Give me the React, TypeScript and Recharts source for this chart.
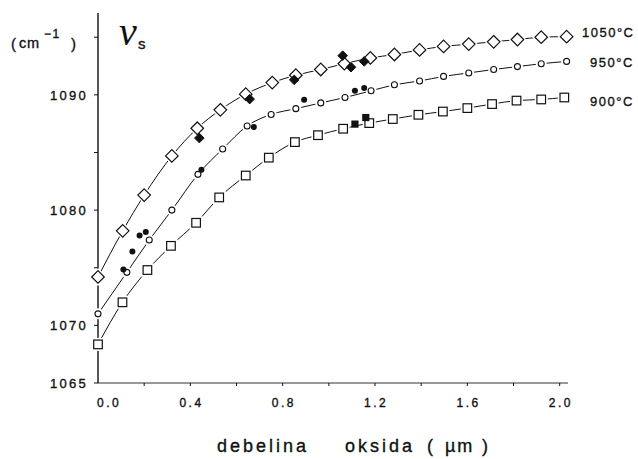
import React from "react";
import { ComposedChart, XAxis, YAxis, Line, Scatter } from "recharts";

// ---- data ----
const xTicks = [0, 0.2, 0.4, 0.6, 0.8, 1.0, 1.2, 1.4, 1.6, 1.8, 2.0];
const yTicks = [1065, 1070, 1075, 1080, 1085, 1090, 1095];
const yLabeled = [1065, 1070, 1080, 1090];

const x1050 = [0, 0.107, 0.2, 0.32, 0.43, 0.53, 0.64, 0.755, 0.857, 0.965, 1.067, 1.18, 1.284, 1.393, 1.497, 1.606, 1.714, 1.817, 1.92, 2.03];
const y1050 = [1074.2, 1078.2, 1081.3, 1084.7, 1087.1, 1088.7, 1090.06, 1091.06, 1091.7, 1092.2, 1092.7, 1093.2, 1093.5, 1093.9, 1094.2, 1094.4, 1094.6, 1094.8, 1095.0, 1095.05];

const x950 = [0, 0.125, 0.222, 0.32, 0.433, 0.54, 0.646, 0.75, 0.857, 0.965, 1.07, 1.183, 1.284, 1.393, 1.497, 1.606, 1.714, 1.817, 1.92, 2.03];
const y950 = [1071.0, 1074.6, 1077.4, 1080.0, 1083.1, 1085.3, 1087.3, 1088.3, 1088.8, 1089.3, 1089.77, 1090.35, 1090.87, 1091.2, 1091.6, 1091.9, 1092.2, 1092.45, 1092.7, 1092.9];

const x900 = [0, 0.106, 0.214, 0.316, 0.425, 0.525, 0.64, 0.74, 0.853, 0.953, 1.062, 1.175, 1.277, 1.388, 1.494, 1.6, 1.707, 1.813, 1.92, 2.02];
const y900 = [1068.35, 1072.0, 1074.8, 1076.9, 1078.9, 1081.1, 1083.0, 1084.55, 1085.9, 1086.5, 1087.06, 1087.55, 1087.9, 1088.27, 1088.55, 1088.85, 1089.2, 1089.5, 1089.6, 1089.77];

const xFilledDiamond = [0.439, 0.657, 0.85, 1.06, 1.096, 1.153];
const yFilledDiamond = [1086.25, 1089.63, 1091.3, 1093.4, 1092.4, 1092.9];

const xFilledCircle = [0.11, 0.149, 0.18, 0.207, 0.448, 0.675, 0.893, 1.113, 1.153];
const yFilledCircle = [1074.85, 1076.4, 1077.8, 1078.1, 1083.5, 1087.2, 1089.57, 1090.35, 1090.6];

const xFilledSquare = [1.113, 1.16];
const yFilledSquare = [1087.46, 1088.03];

const zip = (xs: number[], ys: number[]) => xs.map((x, i) => ({ x, y: ys[i] }));

const d1050 = zip(x1050, y1050);
const d950 = zip(x950, y950);
const d900 = zip(x900, y900);
const dFD = zip(xFilledDiamond, yFilledDiamond);
const dFC = zip(xFilledCircle, yFilledCircle);
const dFS = zip(xFilledSquare, yFilledSquare);

const INK = "#111";
const FONT = "'Liberation Sans', Arial, Helvetica, sans-serif";
const TXT = { stroke: INK, strokeWidth: 0.35 } as const;

// ---- marker shapes ----
const diamondPts = (cx: number, cy: number, r: number) =>
  `${cx},${cy - r} ${cx + r},${cy} ${cx},${cy + r} ${cx - r},${cy}`;

const OpenDiamond = (p: any) => (
  <g>
    <polygon points={diamondPts(p.cx, p.cy, 9)} fill="#fff" />
    <polygon points={diamondPts(p.cx, p.cy, 6.3)} fill="#fff" stroke={INK} strokeWidth={1.2} />
  </g>
);
const OpenCircle = (p: any) => (
  <g>
    <circle cx={p.cx} cy={p.cy} r={5.5} fill="#fff" />
    <circle cx={p.cx} cy={p.cy} r={3} fill="#fff" stroke={INK} strokeWidth={1.1} />
  </g>
);
const OpenSquare = (p: any) => (
  <g>
    <rect x={p.cx - 6.5} y={p.cy - 6.5} width={13} height={13} fill="#fff" />
    <rect x={p.cx - 4.3} y={p.cy - 4.3} width={8.6} height={8.6} fill="#fff" stroke={INK} strokeWidth={1.2} />
  </g>
);
const FilledDiamond = (p: any) => (
  <polygon points={diamondPts(p.cx, p.cy, 4.8)} fill={INK} stroke={INK} strokeWidth={1} />
);
const FilledCircle = (p: any) => <circle cx={p.cx} cy={p.cy} r={3} fill={INK} />;
const FilledSquare = (p: any) => (
  <rect x={p.cx - 3.6} y={p.cy - 3.6} width={7.2} height={7.2} fill={INK} />
);

// ---- ticks ----
const XTick = (props: any) => {
  const { x, y, payload } = props;
  const v = payload.value as number;
  const k = v / 0.4;
  const labeled = Math.abs(k - Math.round(k)) < 1e-6;
  return (
    <g>
      {v > 0 && <line x1={x} y1={y} x2={x} y2={y + 3} stroke={INK} strokeWidth={1} />}
      {labeled && (
        <text
          x={v === 0 ? x - 1 : x + 1.2}
          y={y + 24}
          textAnchor={v === 0 ? "start" : "middle"}
          fontSize={12}
          letterSpacing={2.5}
          fontFamily={FONT}
          fill={INK}
          {...TXT}
        >
          {v.toFixed(1)}
        </text>
      )}
    </g>
  );
};

const YTick = (props: any) => {
  const { x, y, payload } = props;
  const v = payload.value as number;
  return (
    <g>
      <line x1={x - 4} y1={y} x2={x} y2={y} stroke={INK} strokeWidth={1} />
      {yLabeled.includes(v) && (
        <text
          x={x - 10}
          y={y}
          dy="0.36em"
          textAnchor="end"
          fontSize={13}
          letterSpacing={2.3}
          fontFamily={FONT}
          fill={INK}
          {...TXT}
        >
          {v}
        </text>
      )}
    </g>
  );
};

export default function App() {
  return (
    <div style={{ position: "absolute", left: 0, top: 0, width: 638, height: 459, background: "#fff" }}>
      <ComposedChart
        width={638}
        height={459}
        margin={{ top: 13, right: 70, bottom: 36, left: 38 }}
      >
        <XAxis
          dataKey="x"
          type="number"
          domain={[0, 2.036]}
          ticks={xTicks}
          height={40}
          tickSize={0}
          tickMargin={0}
          tickLine={false}
          tick={<XTick />}
          axisLine={{ stroke: "#333", strokeWidth: 1 }}
          interval={0}
        />
        <YAxis
          dataKey="y"
          type="number"
          domain={[1065, 1097.1]}
          ticks={yTicks}
          width={60}
          tickSize={0}
          tickMargin={0}
          tickLine={false}
          tick={<YTick />}
          axisLine={{ stroke: INK, strokeWidth: 1.4 }}
          interval={0}
        />
        <Line data={d1050} dataKey="y" type="monotone" dot={false} stroke={INK} strokeWidth={1} isAnimationActive={false} />
        <Line data={d950} dataKey="y" type="monotone" dot={false} stroke={INK} strokeWidth={1} isAnimationActive={false} />
        <Line data={d900} dataKey="y" type="monotone" dot={false} stroke={INK} strokeWidth={1} isAnimationActive={false} />
        <Scatter data={d1050} dataKey="y" shape={OpenDiamond} isAnimationActive={false} />
        <Scatter data={d950} dataKey="y" shape={OpenCircle} isAnimationActive={false} />
        <Scatter data={d900} dataKey="y" shape={OpenSquare} isAnimationActive={false} />
        <Scatter data={dFD} dataKey="y" shape={FilledDiamond} isAnimationActive={false} />
        <Scatter data={dFC} dataKey="y" shape={FilledCircle} isAnimationActive={false} />
        <Scatter data={dFS} dataKey="y" shape={FilledSquare} isAnimationActive={false} />
      </ComposedChart>
      <svg
        width={638}
        height={459}
        style={{ position: "absolute", left: 0, top: 0, pointerEvents: "none" }}
        fontFamily={FONT}
        fill={INK}
      >
        {/* y unit */}
        <g {...TXT}>
          <text x={11} y={49} fontSize={15}>(</text>
          <text x={19} y={47.5} fontSize={14.5} letterSpacing={0.8}>cm</text>
          <text x={44} y={37.5} fontSize={12} letterSpacing={1.5}>−1</text>
          <text x={71} y={49} fontSize={15}>)</text>
        </g>
        {/* nu_s */}
        <text x={119} y={45} fontSize={40} fontStyle="italic" fontFamily="'Liberation Serif', serif">ν</text>
        <text x={138} y={48.5} fontSize={15} {...TXT}>s</text>
        {/* series labels */}
        <g {...TXT}>
          <text x={582} y={37} fontSize={13} letterSpacing={1.5}>1050°C</text>
          <text x={590} y={66.5} fontSize={13} letterSpacing={1.5}>950°C</text>
          <text x={590} y={106} fontSize={13} letterSpacing={1.5}>900°C</text>
        </g>
        {/* x axis title */}
        <g {...TXT}>
          <text x={217} y={452} fontSize={18} letterSpacing={3}>debelina</text>
          <text x={345} y={452} fontSize={18} letterSpacing={3}>oksida</text>
          <text x={427} y={452} fontSize={18}>(</text>
          <text x={445} y={452} fontSize={18} letterSpacing={2}>µm</text>
          <text x={482} y={452} fontSize={18}>)</text>
        </g>
      </svg>
    </div>
  );
}
